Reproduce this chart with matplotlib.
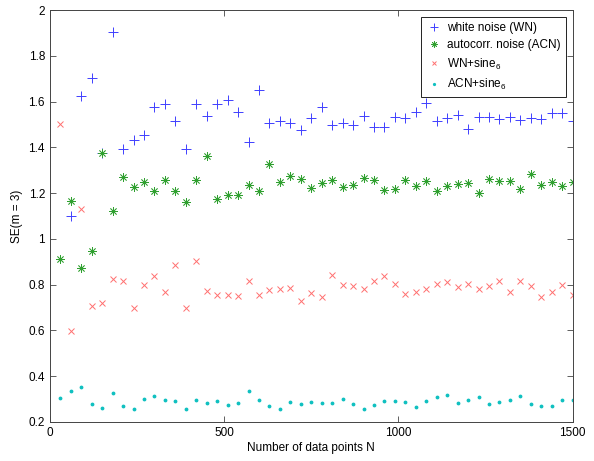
import numpy as np
import matplotlib
matplotlib.use('Agg')
import matplotlib.pyplot as plt

plt.rcParams.update({
    'font.family': ['Liberation Sans', 'DejaVu Sans'],
    'font.size': 8.5,
    'mathtext.fontset': 'custom',
    'mathtext.rm': 'Liberation Sans',
})

# numero de puntos N (30 ... 1500)
N = list(range(30, 1501, 30))

# white noise (WN); el primer punto queda fuera del eje
wn = [np.nan, 1.10, 1.626, 1.705, 1.377, 1.905, 1.392, 1.433, 1.455, 1.575,
      1.588, 1.516, 1.392, 1.588, 1.536, 1.588, 1.606, 1.553, 1.425, 1.649,
      1.508, 1.514, 1.508, 1.475, 1.527, 1.578, 1.497, 1.508, 1.497, 1.539,
      1.487, 1.491, 1.532, 1.530, 1.555, 1.593, 1.513, 1.526, 1.542, 1.479,
      1.533, 1.533, 1.523, 1.533, 1.520, 1.526, 1.523, 1.549, 1.552, 1.516]

# autocorr. noise (ACN)
acn = [0.913, 1.164, 0.873, 0.946, 1.375, 1.124, 1.271, 1.226, 1.248, 1.210,
       1.257, 1.209, 1.161, 1.257, 1.360, 1.175, 1.191, 1.191, 1.235, 1.209,
       1.327, 1.248, 1.276, 1.263, 1.223, 1.245, 1.258, 1.226, 1.236, 1.265,
       1.258, 1.213, 1.216, 1.257, 1.232, 1.254, 1.210, 1.233, 1.239, 1.242,
       1.200, 1.263, 1.252, 1.252, 1.220, 1.284, 1.235, 1.247, 1.232, 1.247]

# WN + sine6
wn_sine = [1.502, 0.596, 1.130, 0.705, 0.721, 0.825, 0.814, 0.696, 0.799, 0.839,
           0.766, 0.887, 0.696, 0.904, 0.773, 0.753, 0.757, 0.750, 0.815, 0.753,
           0.776, 0.783, 0.786, 0.730, 0.765, 0.748, 0.843, 0.799, 0.795, 0.779,
           0.818, 0.840, 0.805, 0.761, 0.767, 0.782, 0.802, 0.811, 0.791, 0.801,
           0.782, 0.795, 0.817, 0.770, 0.817, 0.793, 0.744, 0.770, 0.798, 0.754]

# ACN + sine6
acn_sine = [0.306, 0.337, 0.351, 0.280, 0.263, 0.327, 0.268, 0.258, 0.302, 0.315,
            0.295, 0.292, 0.258, 0.295, 0.284, 0.293, 0.276, 0.284, 0.334, 0.295,
            0.271, 0.255, 0.287, 0.280, 0.286, 0.284, 0.283, 0.302, 0.277, 0.258,
            0.274, 0.293, 0.290, 0.287, 0.264, 0.293, 0.308, 0.318, 0.284, 0.295,
            0.311, 0.277, 0.287, 0.295, 0.313, 0.279, 0.271, 0.268, 0.296, 0.296]

fig = plt.figure(figsize=(5.94, 4.61), dpi=100)
ax = fig.add_axes([0.084, 0.0846, 0.880, 0.8937])

ax.plot(N, wn, linestyle='none', marker='+', ms=7, mew=0.7,
        color='#4040ff', label='white noise (WN)')
ax.plot(N, acn, linestyle='none', marker=(8, 2, 0), ms=6, mew=0.55,
        color='#30a030', label='autocorr. noise (ACN)')
ax.plot(N, wn_sine, linestyle='none', marker='x', ms=4.5, mew=0.7,
        color='#ff7070', label='WN+sine$_6$')
ax.plot(N, acn_sine, linestyle='none', marker='.', ms=3.5,
        color='#10c0c0', label='ACN+sine$_6$')

ax.set_xlim(0, 1500)
ax.set_ylim(0.2, 2.0)
ax.set_xticks([0, 500, 1000, 1500])
ax.set_yticks(np.arange(0.2, 2.01, 0.2))
ax.set_yticklabels(['0.2', '0.4', '0.6', '0.8', '1', '1.2', '1.4', '1.6', '1.8', '2'])
ax.tick_params(direction='in', top=True, right=True, length=4, width=0.6,
               color='#444444', labelsize=8.5)
for s in ax.spines.values():
    s.set_linewidth(0.7)
    s.set_color('#444444')

ax.set_xlabel('Number of data points N', labelpad=2)
ax.set_ylabel('SE(m = 3)', labelpad=4)

leg = ax.legend(loc='upper right', fancybox=False, framealpha=1, edgecolor='#222222',
                borderaxespad=0.6, handletextpad=0.5, labelspacing=0.45,
                handlelength=1.3, markerscale=0.75, fontsize=8.5)
leg.get_frame().set_linewidth(0.7)

fig.savefig('out.png', dpi=100)
